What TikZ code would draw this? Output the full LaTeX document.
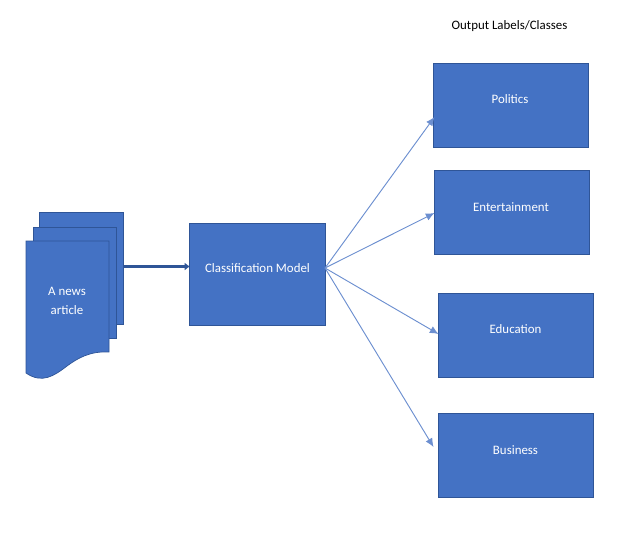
\documentclass[tikz,border=0pt]{standalone}
\usepackage{fontspec}
\setmainfont{Carlito}
\usetikzlibrary{arrows.meta}
\definecolor{boxblue}{HTML}{4472C4}
\definecolor{boxedge}{HTML}{2F5597}
\definecolor{linkblue}{HTML}{6C8FD0}
\tikzset{
	blockbox/.style={draw=boxedge, fill=boxblue, line width=.6pt, minimum width=#1*.03cm, minimum height=84*.03cm, inner sep=0pt},
	whitelabel/.style={text=white, font=\fontsize{11}{13}\selectfont, inner sep=0pt},
	fanlink/.style={draw=linkblue, line width=.8pt, -{Latex[length=2.6mm,width=2.3mm]}}
}
\begin{document}
\begin{tikzpicture}[x=.03cm, y=-.03cm]
	\useasboundingbox (0,0) rectangle (623,533);
	% stack of pages
	\node[blockbox=84, minimum height=112*.03cm] (pageback) at (81,268) {};
	\node[blockbox=83, minimum height=111*.03cm] (pagemid) at (74.5,282.5) {};
	\draw[draw=boxedge, fill=boxblue, line width=.6pt] (26,241) -- (109,241) -- (109,352)
	  .. controls (90,351) and (78,358) .. (67,366)
	  .. controls (54,376) and (42,384) .. (26,373) -- cycle;
	\node[whitelabel, align=center] (newslabel) at (67,301) {A news\\[3.5pt]article};
	% model and outputs
	\node[blockbox=136, minimum height=102*.03cm] (model) at (257.5,274.5) {};
	\node[whitelabel] (modellabel) at (257.5,268.5) {Classification Model};
	\node[blockbox=155] (politics) at (510.5,105) {};
	\node[whitelabel] (politicslabel) at (510,99.5) {Politics};
	\node[blockbox=155] (entertainment) at (511.5,212) {};
	\node[whitelabel] (entertainmentlabel) at (511,207) {Entertainment};
	\node[blockbox=155] (education) at (515.5,335) {};
	\node[whitelabel] (educationlabel) at (515.5,329.5) {Education};
	\node[blockbox=155] (business) at (515.5,455.5) {};
	\node[whitelabel] (businesslabel) at (515.5,450) {Business};
	\node[font=\fontsize{11}{13}\selectfont, inner sep=0pt] (outputlabel) at (509.5,26) {Output Labels/Classes};
	% connectors
	\coordinate (docout) at (123,266.5);
	\coordinate (modelin) at (190,266.5);
	\coordinate (fanstart) at (325,268);
	\coordinate (politicsin) at (434.5,117);
	\coordinate (entertainmentin) at (434.5,213);
	\coordinate (educationin) at (438.5,334);
	\coordinate (businessin) at (433.5,447);
	\draw[draw=boxedge, line width=2.6pt, -{Latex[length=1.6mm,width=2.4mm]}] (docout) -- (modelin);
	\foreach \target in {politicsin,entertainmentin,educationin,businessin}
		\draw[fanlink] (fanstart) -- (\target);
\end{tikzpicture}
\end{document}
